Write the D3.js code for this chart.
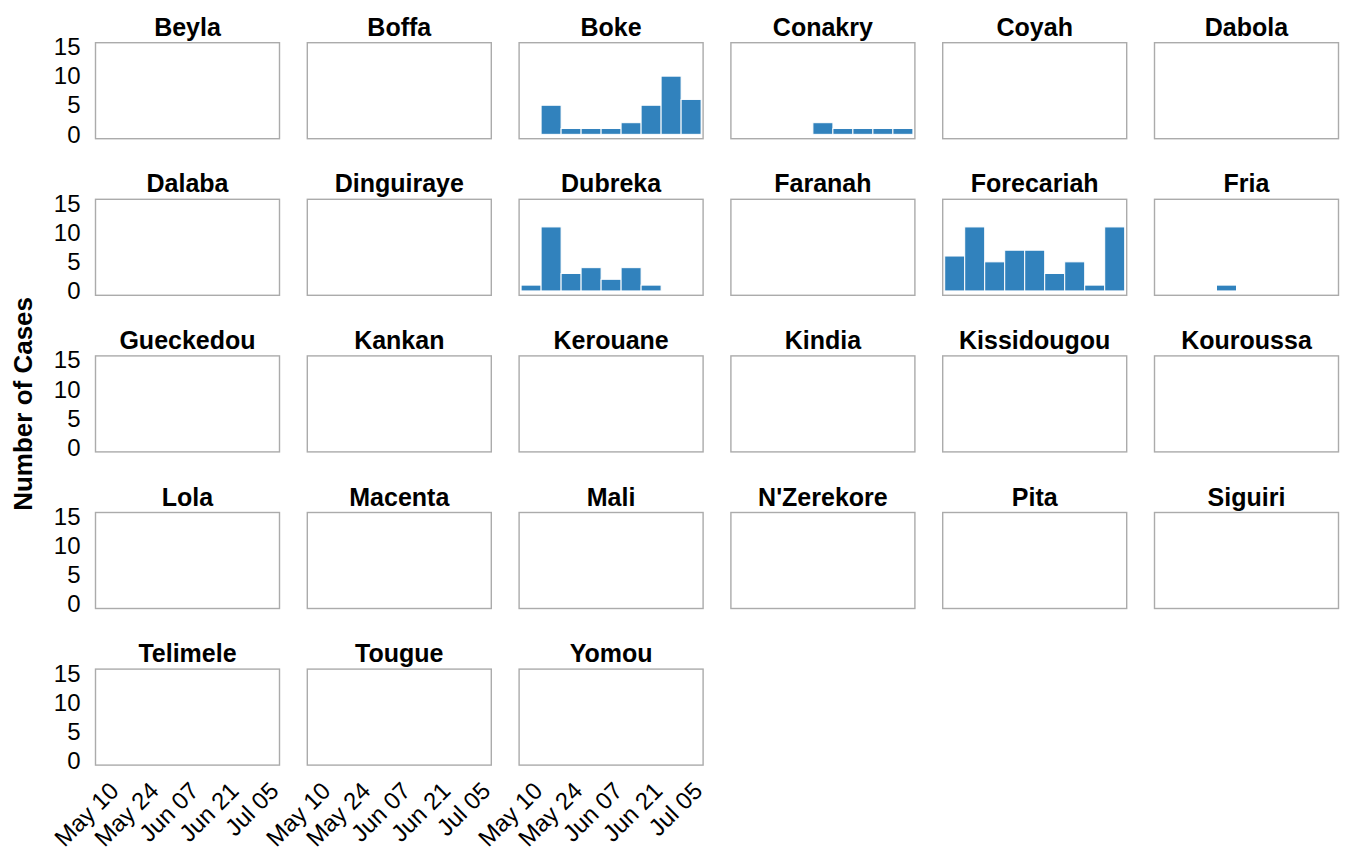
<!DOCTYPE html>
<html>
<head>
<meta charset="utf-8">
<script src="https://cdn.jsdelivr.net/npm/d3@7"></script>
<style>
  html, body { margin: 0; padding: 0; background: #fff; }
  svg { display: block; }
  text { font-family: "Liberation Sans", Arial, sans-serif; fill: #000; }
</style>
</head>
<body>
<svg id="chart" width="1346" height="857"></svg>
<script>
// ---------- data ----------
const districts = ["Beyla","Boffa","Boke","Conakry","Coyah","Dabola",
  "Dalaba","Dinguiraye","Dubreka","Faranah","Forecariah","Fria",
  "Gueckedou","Kankan","Kerouane","Kindia","Kissidougou","Kouroussa",
  "Lola","Macenta","Mali","N'Zerekore","Pita","Siguiri",
  "Telimele","Tougue","Yomou"];
const weeks = ["2015-05-10","2015-05-17","2015-05-24","2015-05-31","2015-06-07",
  "2015-06-14","2015-06-21","2015-06-28","2015-07-05"];
const bokeCases       = [0, 5, 1, 1, 1, 2, 5, 10, 6];
const conakryCases    = [0, 0, 0, 0, 2, 1, 1, 1, 1];
const dubrekaCases    = [1, 11, 3, 4, 2, 4, 1, 0, 0];
const forecariahCases = [6, 11, 5, 7, 7, 3, 5, 1, 11];
const friaCases       = [0, 0, 0, 1, 0, 0, 0, 0, 0];
const xTickDates = ["2015-05-10","2015-05-24","2015-06-07","2015-06-21","2015-07-05"];
const yTicks = [0, 5, 10, 15];
const yLabel = "Number of Cases";

const seriesByDistrict = {
  "Boke": bokeCases, "Conakry": conakryCases, "Dubreka": dubrekaCases,
  "Forecariah": forecariahCases, "Fria": friaCases
};

// ---------- layout ----------
const parse = d3.timeParse("%Y-%m-%d");
const fmt = d3.timeFormat("%b %d");
const nCols = 6;
const colLeft0 = 95.5, colPitch = 211.8, panelW = 184;
const rowTop0 = 42.7, rowPitch = 156.6, panelH = 96;
const nRows = Math.ceil(districts.length / nCols);
const FONT = '"Liberation Sans", Arial, sans-serif';

const svg = d3.select("#chart");

const weekDates = weeks.map(parse);
const DAY = 864e5;
const x = d3.scaleTime()
  .domain([new Date(+weekDates[0] - 4.2 * DAY), new Date(+weekDates[weekDates.length - 1] + 4.2 * DAY)])
  .range([0, panelW]);
const y = d3.scaleLinear().domain([-0.75, 15.75]).range([panelH, 0]);

districts.forEach((name, i) => {
  const r = Math.floor(i / nCols), c = i % nCols;
  const left = colLeft0 + c * colPitch, top = rowTop0 + r * rowPitch;
  const g = svg.append("g").attr("transform", `translate(${left},${top})`);

  // title
  g.append("text")
    .attr("x", panelW / 2).attr("y", -7)
    .attr("text-anchor", "middle")
    .attr("font-size", 25).attr("font-weight", "bold")
    .text(name);

  // bars
  const vals = seriesByDistrict[name] || [];
  const data = vals.map((v, k) => ({ d: weekDates[k], v })).filter(e => e.v > 0);
  g.selectAll("rect.bar").data(data).enter().append("rect")
    .attr("class", "bar")
    .attr("x", e => x(new Date(+e.d - 3.5 * DAY)))
    .attr("width", e => x(new Date(+e.d + 3.5 * DAY)) - x(new Date(+e.d - 3.5 * DAY)))
    .attr("y", e => y(e.v))
    .attr("height", e => y(0) - y(e.v))
    .attr("fill", "#3182bd")
    .attr("stroke", "#ffffff")
    .attr("stroke-width", 1);

  // panel border
  g.append("rect")
    .attr("x", 0).attr("y", 0).attr("width", panelW).attr("height", panelH)
    .attr("fill", "none").attr("stroke", "#ababab").attr("stroke-width", 1.4);

  // y axis (first column only)
  if (c === 0) {
    const ya = d3.axisLeft(y).tickValues(yTicks).tickSize(0).tickPadding(15);
    const ag = g.append("g").call(ya);
    ag.select(".domain").remove();
    ag.selectAll("text").attr("font-size", 24).attr("fill", "#000")
      .style("font-family", FONT);
  }

  // x axis (last row only)
  if (r === nRows - 1) {
    const xa = d3.axisBottom(x).tickValues(xTickDates.map(parse)).tickFormat(fmt).tickSize(0);
    const ag = g.append("g").attr("transform", `translate(0,${panelH})`).call(xa);
    ag.select(".domain").remove();
    ag.selectAll(".tick text")
      .attr("font-size", 24).attr("fill", "#000")
      .style("font-family", FONT)
      .attr("text-anchor", "end")
      .attr("x", 0).attr("y", 0).attr("dy", "0.72em")
      .attr("transform", "translate(0,15) rotate(-45)");
  }
});

// y label
const panelsMid = rowTop0 + ((nRows - 1) * rowPitch + panelH) / 2;
svg.append("text")
  .attr("transform", `translate(32,${panelsMid}) rotate(-90)`)
  .attr("text-anchor", "middle")
  .attr("font-size", 26).attr("font-weight", "bold")
  .text(yLabel);
</script>
</body>
</html>
